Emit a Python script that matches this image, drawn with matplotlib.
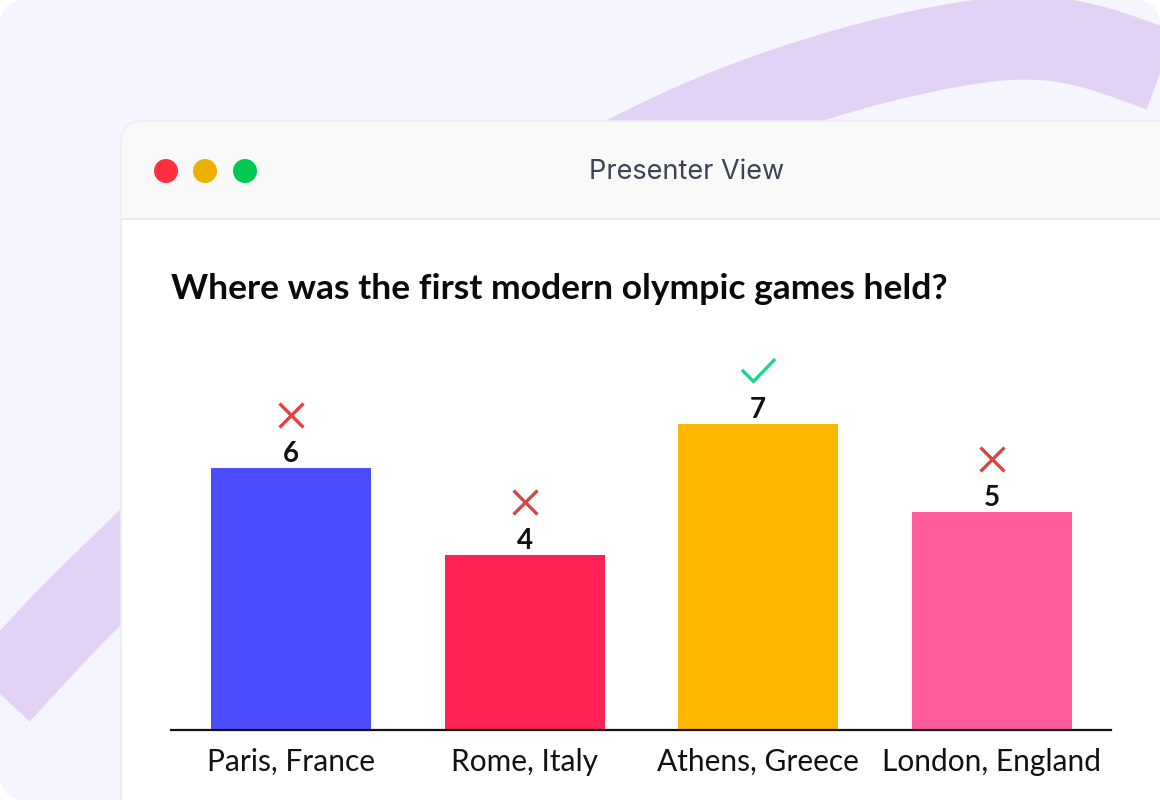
import numpy as np
import matplotlib
matplotlib.use("Agg")
import matplotlib.pyplot as plt
from matplotlib.patches import FancyBboxPatch, Rectangle, Circle
from matplotlib.path import Path
import matplotlib.transforms as mtransforms

# ---- data ----
categories = ["Paris, France", "Rome, Italy", "Athens, Greece", "London, England"]
votes = [6, 4, 7, 5]
correct = [False, False, True, False]
bar_colors = ["#4B4BFF", "#FF2355", "#FFB700", "#FF5A9B"]
question = "Where was the first modern olympic games held?"
window_title = "Presenter View"

W, H = 1160, 800
fig = plt.figure(figsize=(W / 100, H / 100), dpi=100)
fig.patch.set_facecolor("white")

# ---- background decoration (pixel coordinates) ----
bg = fig.add_axes([0, 0, 1, 1])
bg.set_xlim(0, W)
bg.set_ylim(H, 0)
bg.axis("off")

outer = FancyBboxPatch((0, 0), W, H, boxstyle="round,pad=0,rounding_size=26",
                       facecolor="#F5F5FD", edgecolor="none", zorder=0)
bg.add_patch(outer)


def catmull(pts, n=60):
    pts = np.asarray(pts, float)
    out = []
    for i in range(1, len(pts) - 2):
        p0, p1, p2, p3 = pts[i - 1:i + 3]
        t = np.linspace(0, 1, n)[:, None]
        out.append(0.5 * ((2 * p1) + (-p0 + p2) * t + (2 * p0 - 5 * p1 + 4 * p2 - p3) * t ** 2
                          + (-p0 + 3 * p1 - 3 * p2 + p3) * t ** 3))
    return np.vstack(out)


band = catmull([(-450, 1200), (-300, 1020), (-150, 855), (0, 692), (122, 566),
                (420, 290), (700, 122), (990, 40), (1160, 70), (1300, 150), (1400, 250)])
ln, = bg.plot(band[:, 0], band[:, 1], color="#E2D2F6", lw=60, solid_capstyle="butt",
              solid_joinstyle="round", zorder=0.5)
ln.set_clip_path(outer)

# window
win = FancyBboxPatch((121, 121), 1100, 760, boxstyle="round,pad=0,rounding_size=22",
                     facecolor="#F9F9FA", edgecolor="#EDEDF3", lw=1.2, zorder=1)
bg.add_patch(win)
bg.add_patch(Rectangle((121.6, 219), 1100, 600, facecolor="white", edgecolor="none", zorder=1.1))
bg.plot([121.6, W], [218.5, 218.5], color="#E9E9EE", lw=1.5, zorder=1.2)

for cx, col in zip([166, 205, 245], ["#FF2F3E", "#EDB000", "#00C853"]):
    bg.add_patch(Circle((cx, 171), 12, facecolor=col, edgecolor="none", zorder=2))

bg.text(687, 172, window_title, ha="center", va="center", fontsize=19.5,
        family="Inter", color="#3B4252", zorder=3)

bg.text(171, 289, question, ha="left", va="center", fontsize=25.5,
        family="Lato", fontweight="bold", color="#0A0A0A", zorder=3)

# ---- chart ----
x_left, x_right, y_base, y_top = 171, 1111, 730, 330
ax = fig.add_axes([x_left / W, 1 - y_base / H, (x_right - x_left) / W, (y_base - y_top) / H])
ax.patch.set_alpha(0)
x = np.arange(len(categories))
ax.bar(x, votes, width=0.685, color=bar_colors, zorder=2)
ax.set_xlim(-0.514, 3.51)
ax.set_ylim(0, 9.16)
for s in ["top", "right", "left"]:
    ax.spines[s].set_visible(False)
ax.spines["bottom"].set_linewidth(1.6)
ax.spines["bottom"].set_color("#111111")
ax.set_yticks([])
ax.set_xticks(x)
ax.set_xticklabels(categories, fontsize=21.5, family="Lato", color="#111111")
ax.tick_params(axis="x", length=0, pad=13)

lab_tr = mtransforms.offset_copy(ax.transData, fig=fig, x=0, y=14 * 0.72, units="points")
mark_tr = mtransforms.offset_copy(ax.transData, fig=fig, x=0, y=53 * 0.72, units="points")
check = Path([(-1, 0.1), (-0.3, -0.6), (1, 0.75)], [Path.MOVETO, Path.LINETO, Path.LINETO])
for xi, v, ok in zip(x, votes, correct):
    ax.text(xi, v, str(v), transform=lab_tr, ha="center", va="center",
            fontsize=20, family="Lato", fontweight="bold", color="#111111")
    if ok:
        ax.plot([xi], [v], transform=mark_tr, marker=check, markersize=24,
                markerfacecolor="none", markeredgecolor="#20D38B", markeredgewidth=2.4,
                clip_on=False)
    else:
        ax.plot([xi], [v], transform=mark_tr, marker="x", markersize=17,
                markeredgecolor="#DC4444", markeredgewidth=2.4, clip_on=False)

fig.savefig("out.png", dpi=100)
